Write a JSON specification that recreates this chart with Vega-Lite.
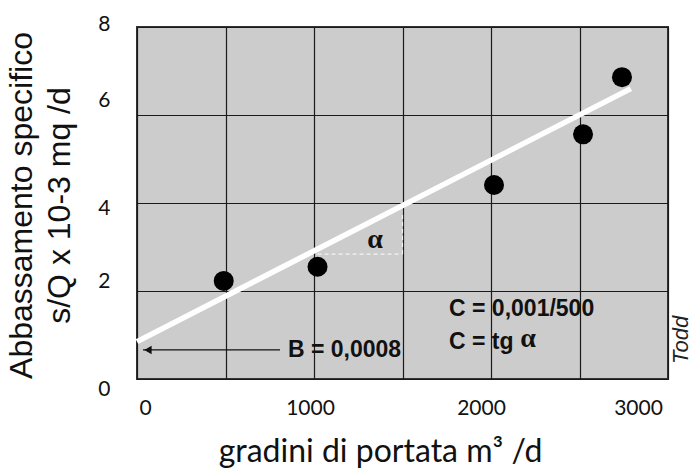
{
  "$schema": "https://vega.github.io/schema/vega-lite/v6.json",
  "width": 531,
  "height": 352,
  "autosize": {"type": "none"},
  "padding": {"left": 137, "top": 27, "right": 25, "bottom": 89},
  "background": "white",
  "config": {
    "view": {"fill": "#cccccc", "stroke": "#333333", "strokeWidth": 2},
    "font": "Lato"
  },
  "datasets": {
    "points": [
      {"q": 490, "s": 2.23},
      {"q": 1020, "s": 2.55},
      {"q": 2017, "s": 4.41},
      {"q": 2520, "s": 5.56},
      {"q": 2740, "s": 6.86}
    ],
    "fit": [
      {"q": 0, "s": 0.85},
      {"q": 2790, "s": 6.6}
    ],
    "dash": [
      {"q": 1020, "q2": 1500, "s": 2.84, "s2": 2.84},
      {"q": 1500, "q2": 1500, "s": 2.84, "s2": 3.8}
    ],
    "arrow": [
      {"q": 34, "q2": 808, "s": 0.66}
    ],
    "arrowhead": [
      {"q": 62, "s": 0.66}
    ],
    "labels": [
      {"q": 853, "s": 0.66, "t": "B = 0,0008"},
      {"q": 1763, "s": 1.59, "t": "C = 0,001/500"},
      {"q": 1763, "s": 0.84, "t": "C = tg"}
    ],
    "alpha_small": [
      {"q": 1345, "s": 3.16, "t": "α"}
    ],
    "alpha_big": [
      {"q": 2165, "s": 0.9, "t": "α"}
    ],
    "credit": [
      {"q": 3075, "s": 0.89, "t": "Todd"}
    ]
  },
  "layer": [
    {
      "data": {"name": "fit"},
      "mark": {"type": "line", "color": "white", "strokeWidth": 5.5, "strokeCap": "butt"},
      "encoding": {
        "x": {
          "field": "q",
          "type": "quantitative",
          "scale": {"domain": [0, 3000], "nice": false, "zero": false},
          "axis": {
            "values": [0, 500, 1000, 1500, 2000, 2500, 3000],
            "labelExpr": "datum.value % 1000 === 0 ? datum.label : ''",
            "format": "d",
            "grid": true,
            "gridColor": "#1a1a1a",
            "gridWidth": 1.2,
            "gridOpacity": 1,
            "ticks": false,
            "tickSize": 0,
            "domain": false,
            "labelFlush": false,
            "labelOverlap": false,
            "labelFont": "Lato",
            "labelFontSize": 21,
            "labelColor": "#111111",
            "labelAlign": "center",
            "labelBaseline": "middle",
            "labelPadding": 29,
            "labelOffset": {
              "condition": [
                {"test": "datum.value === 0", "value": 8},
                {"test": "datum.value === 1000", "value": -4},
                {"test": "datum.value === 2000", "value": -10},
                {"test": "datum.value === 3000", "value": -30}
              ],
              "value": 0
            },
            "title": "gradini di portata m³ /d",
            "titleFont": "Lato",
            "titleFontSize": 32,
            "titleFontWeight": "normal",
            "titleColor": "#111111",
            "titleX": 243,
            "titleY": 82,
            "titleAlign": "center",
            "titleBaseline": "alphabetic"
          }
        },
        "y": {
          "field": "s",
          "type": "quantitative",
          "scale": {"domain": [0, 8], "nice": false, "zero": false},
          "axis": {
            "values": [0, 2, 4, 6, 8],
            "grid": true,
            "gridColor": "#1a1a1a",
            "gridWidth": 1.2,
            "gridOpacity": 1,
            "ticks": false,
            "tickSize": 0,
            "domain": false,
            "labelFlush": false,
            "labelOverlap": false,
            "labelFont": "Lato",
            "labelFontSize": 21,
            "labelColor": "#111111",
            "labelAlign": "right",
            "labelBaseline": "middle",
            "labelPadding": 27,
            "labelOffset": {
              "condition": [
                {"test": "datum.value === 0", "value": 10},
                {"test": "datum.value === 2", "value": -10},
                {"test": "datum.value === 4", "value": 5},
                {"test": "datum.value === 6", "value": -15},
                {"test": "datum.value === 8", "value": -3}
              ],
              "value": 0
            },
            "title": ["Abbassamento specifico", "s/Q x 10-3 mq /d"],
            "titleFont": "Liberation Sans",
            "titleFontSize": 32,
            "titleFontWeight": "normal",
            "titleColor": "#111111",
            "titleLineHeight": 38,
            "titleAngle": 270,
            "titleX": -116,
            "titleY": 178,
            "titleAlign": "center",
            "titleBaseline": "middle"
          }
        }
      }
    },
    {
      "data": {"name": "dash"},
      "mark": {"type": "rule", "color": "#f4f4f4", "strokeWidth": 1.2, "strokeDash": [4, 3]},
      "encoding": {
        "x": {"field": "q", "type": "quantitative"},
        "x2": {"field": "q2"},
        "y": {"field": "s", "type": "quantitative"},
        "y2": {"field": "s2"}
      }
    },
    {
      "data": {"name": "points"},
      "mark": {"type": "point", "shape": "circle", "filled": true, "color": "black", "opacity": 1, "size": 400},
      "encoding": {
        "x": {"field": "q", "type": "quantitative"},
        "y": {"field": "s", "type": "quantitative"}
      }
    },
    {
      "data": {"name": "arrow"},
      "mark": {"type": "rule", "color": "#111111", "strokeWidth": 1.2},
      "encoding": {
        "x": {"field": "q", "type": "quantitative"},
        "x2": {"field": "q2"},
        "y": {"field": "s", "type": "quantitative"}
      }
    },
    {
      "data": {"name": "arrowhead"},
      "mark": {"type": "point", "shape": "triangle-left", "filled": true, "color": "#111111", "opacity": 1, "size": 70},
      "encoding": {
        "x": {"field": "q", "type": "quantitative"},
        "y": {"field": "s", "type": "quantitative"}
      }
    },
    {
      "data": {"name": "labels"},
      "mark": {"type": "text", "font": "Liberation Sans", "fontWeight": "bold", "fontSize": 23, "align": "left", "baseline": "middle", "color": "#111111"},
      "encoding": {
        "x": {"field": "q", "type": "quantitative"},
        "y": {"field": "s", "type": "quantitative"},
        "text": {"field": "t"}
      }
    },
    {
      "data": {"name": "alpha_small"},
      "mark": {"type": "text", "font": "Liberation Serif", "fontWeight": "bold", "fontSize": 28, "align": "center", "baseline": "middle", "color": "#111111"},
      "encoding": {
        "x": {"field": "q", "type": "quantitative"},
        "y": {"field": "s", "type": "quantitative"},
        "text": {"field": "t"}
      }
    },
    {
      "data": {"name": "alpha_big"},
      "mark": {"type": "text", "font": "Liberation Serif", "fontWeight": "bold", "fontSize": 28, "align": "left", "baseline": "middle", "color": "#111111"},
      "encoding": {
        "x": {"field": "q", "type": "quantitative"},
        "y": {"field": "s", "type": "quantitative"},
        "text": {"field": "t"}
      }
    },
    {
      "data": {"name": "credit"},
      "mark": {"type": "text", "font": "Liberation Sans", "fontStyle": "italic", "fontSize": 22, "angle": 270, "align": "center", "baseline": "middle", "color": "#222222"},
      "encoding": {
        "x": {"field": "q", "type": "quantitative"},
        "y": {"field": "s", "type": "quantitative"},
        "text": {"field": "t"}
      }
    }
  ]
}
